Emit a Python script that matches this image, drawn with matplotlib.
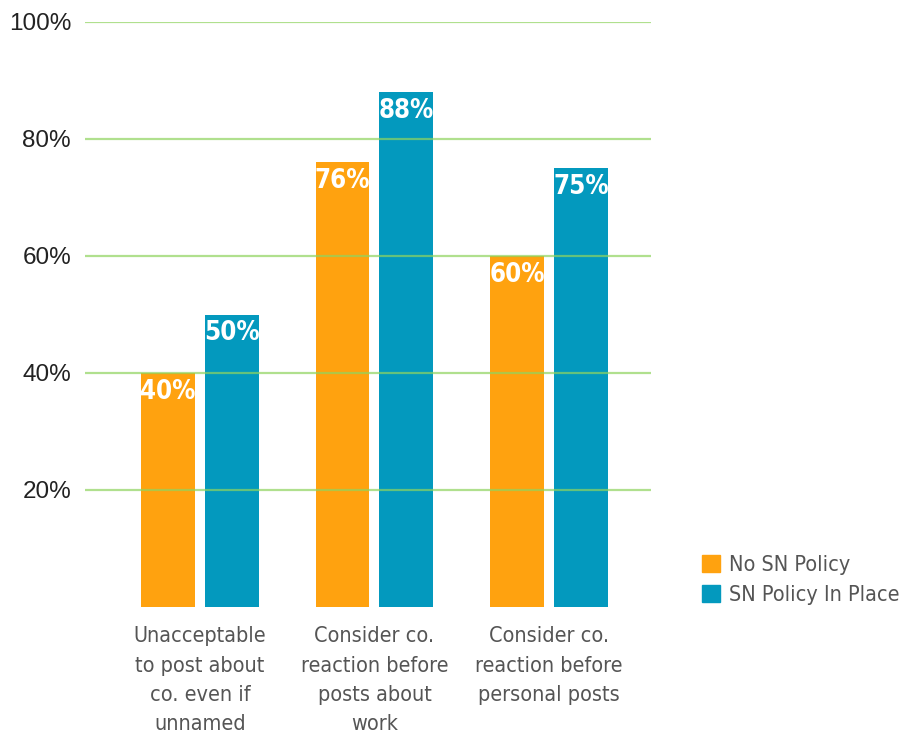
import matplotlib
matplotlib.use("Agg")
import matplotlib.pyplot as plt
import numpy as np
from matplotlib.patches import Patch

categories = ["Unacceptable\nto post about\nco. even if\nunnamed",
              "Consider co.\nreaction before\nposts about\nwork",
              "Consider co.\nreaction before\npersonal posts"]
no_policy = [40, 76, 60]
with_policy = [50, 88, 75]
series_names = ["No SN Policy", "SN Policy In Place"]
yticks = [20, 40, 60, 80, 100]

orange = "#FFA20F"
blue = "#0399BE"
grey = "#555555"
narrow = dict(family="DejaVu Sans", stretch="condensed")

fig = plt.figure(figsize=(9.1, 7.36), dpi=100)
ax = fig.add_axes([85 / 910, 1 - 607 / 736, (651 - 85) / 910, (607 - 22) / 736])

x = np.arange(len(categories))
w = 0.309
off = 0.183
b1 = ax.bar(x - off, no_policy, w, color=orange, zorder=2)
b2 = ax.bar(x + off, with_policy, w, color=blue, zorder=2)

for bars, vals in [(b1, no_policy), (b2, with_policy)]:
    for r, v in zip(bars, vals):
        ax.text(r.get_x() + r.get_width() / 2, v - 1.0, f"{v}%", ha="center", va="top",
                color="white", fontsize=18.5, fontweight="bold", zorder=4, **narrow)

for t in yticks:
    ax.axhline(t, color="#8FD45F", alpha=0.7, lw=1.6, zorder=3)

ax.set_xlim(-0.659, 2.585)
ax.set_ylim(0, 100)
ax.set_yticks(yticks)
ax.set_yticklabels([f"{t}%" for t in yticks], fontsize=17.5, color="#222222", family="Liberation Sans")
ax.set_xticks(x)
ax.set_xticklabels(categories, fontsize=15.5, color=grey, linespacing=1.58, va="top", **narrow)
ax.tick_params(length=0, axis="x", pad=14)
ax.tick_params(length=0, axis="y", pad=10)
for s in ax.spines.values():
    s.set_visible(False)

handles = [Patch(color=orange), Patch(color=blue)]
fig.legend(handles, series_names, loc="center left", bbox_to_anchor=(683 / 910, 1 - 580 / 736),
           frameon=False, handlelength=0.8, handleheight=0.8, handletextpad=0.45,
           labelspacing=0.45, prop=dict(size=15.5, **narrow), labelcolor=grey)

fig.savefig("out.png", dpi=100)
